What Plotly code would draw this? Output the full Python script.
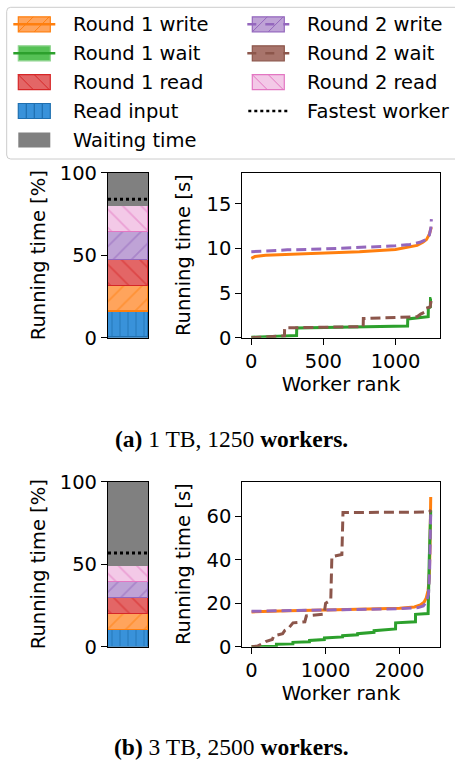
import plotly.graph_objects as go

W, H = 455, 766

# ---------------- data ----------------
seg_names = ["Read input", "Round 1 write", "Round 1 read", "Round 2 write", "Round 2 read", "Waiting time"]
share_a = [15.8, 15.7, 15.5, 17.2, 15.6, 20.2]
share_b = [10.1, 9.7, 9.9, 9.7, 9.7, 50.9]
fastest_a = 83.9
fastest_b = 56.8

# (a) 1 TB, 1250 workers
a_r1_write_rank = [0, 25, 100, 250, 500, 750, 1000, 1100, 1150, 1190, 1215, 1235, 1245, 1249]
a_r1_write_val = [8.9, 9.1, 9.25, 9.35, 9.45, 9.65, 9.9, 10.15, 10.35, 10.7, 11.0, 11.6, 12.1, 12.4]
a_r2_write_rank = [0, 100, 250, 500, 750, 1000, 1100, 1170, 1210, 1235, 1245, 1249]
a_r2_write_val = [9.65, 9.75, 9.85, 9.95, 10.1, 10.3, 10.45, 10.7, 11.0, 11.5, 12.3, 13.3]
a_r1_wait_rank = [0, 314, 315, 1084, 1085, 1227, 1228, 1242, 1243, 1249]
a_r1_wait_val = [0.05, 0.25, 1.1, 1.3, 2.1, 2.35, 3.3, 3.45, 4.4, 4.4]
a_r2_wait_rank = [0, 230, 231, 776, 777, 1150, 1175, 1200, 1210, 1240, 1249]
a_r2_wait_val = [0.0, 0.2, 1.1, 1.25, 2.15, 2.35, 2.65, 2.85, 3.3, 3.45, 4.3]

# (b) 3 TB, 2500 workers
b_r1_write_rank = [0, 200, 500, 1000, 1500, 2000, 2200, 2280, 2330, 2360, 2385, 2400, 2410, 2420]
b_r1_write_val = [16.0, 16.3, 16.6, 16.9, 17.2, 17.7, 18.3, 19.2, 20.5, 22.5, 26.0, 32.0, 45.0, 69.0]
b_r2_write_rank = [0, 500, 1000, 1500, 2000, 2250, 2320, 2360, 2390, 2405, 2415, 2420]
b_r2_write_val = [16.3, 16.6, 16.9, 17.2, 17.5, 18.0, 18.8, 20.5, 24.0, 35.0, 50.0, 62.0]
b_r1_wait_rank = [0, 335, 336, 558, 559, 782, 783, 983, 984, 1229, 1230, 1431, 1432, 1654, 1655,
                  1945, 1946, 2214, 2215, 2385, 2400, 2420]
b_r1_wait_val = [0.0, 0.2, 1.1, 1.3, 2.0, 2.3, 2.9, 3.3, 4.0, 4.5, 5.1, 5.5, 6.0, 6.6, 7.4,
                 8.2, 11.0, 11.5, 14.9, 15.3, 40.0, 62.8]
b_r2_wait_rank = [0, 80, 150, 200, 280, 300, 420, 450, 500, 540, 560, 720, 740, 980, 1000, 1070,
                  1085, 1220, 1235, 2400, 2425]
b_r2_wait_val = [0.0, 0.3, 1.5, 2.5, 3.3, 5.0, 6.0, 7.5, 8.5, 10.0, 11.0, 11.5, 14.2, 15.0, 20.0,
                 21.5, 41.5, 42.5, 61.8, 62.0, 63.0]

cap_a = "<b>(a)</b> 1 TB, 1250 <b>workers.</b>"
cap_b = "<b>(b)</b> 3 TB, 2500 <b>workers.</b>"

# ---------------- styles ----------------
FONT = "DejaVu Sans"
FS = 19.5
fill_col = {"Read input": "#3992da", "Round 1 write": "#ffa45c", "Round 1 read": "#e36666",
            "Round 2 write": "#bfa3d6", "Round 2 read": "#f3c9e7", "Waiting time": "#808080"}
edge_col = {"Read input": "#1f6fb0", "Round 1 write": "#ff7f0e", "Round 1 read": "#d62728",
            "Round 2 write": "#9467bd", "Round 2 read": "#e377c2", "Waiting time": "#808080"}
hatch = {"Read input": "|", "Round 1 write": "/", "Round 1 read": "\\",
         "Round 2 write": "/", "Round 2 read": "\\", "Waiting time": ""}
hsize = {"Read input": 8, "Round 1 write": 13, "Round 1 read": 13,
         "Round 2 write": 13, "Round 2 read": 13, "Waiting time": 10}
ORANGE, PURPLE, GREEN, BROWN = "#ff7f0e", "#9467bd", "#2ca02c", "#8c564b"
DASH = "10px,5px"

fig = go.Figure()


def px(x):
    return x / W


def py(y):
    return 1 - y / H


def add_bar(shares, fastest, xa, ya):
    for name, v in zip(seg_names, shares):
        fig.add_trace(go.Bar(
            x=[0], y=[v], width=[1], xaxis=xa, yaxis=ya, showlegend=False, name=name,
            marker=dict(color=fill_col[name],
                        line=dict(color=edge_col[name], width=1.2),
                        pattern=dict(shape=hatch[name], fgcolor=edge_col[name],
                                     bgcolor=fill_col[name], size=hsize[name],
                                     solidity=0.14 if hatch[name] != "|" else 0.2)),
        ))
    fig.add_trace(go.Scatter(x=[-0.5, 0.5], y=[fastest, fastest], mode="lines", xaxis=xa, yaxis=ya,
                             line=dict(color="black", width=3, dash="dot"), showlegend=False,
                             name="Fastest worker"))


def add_lines(xa, ya, r1w, r2w, r1t, r2t):
    fig.add_trace(go.Scatter(x=r1w[0], y=r1w[1], mode="lines", xaxis=xa, yaxis=ya, showlegend=False,
                             name="Round 1 write", line=dict(color=ORANGE, width=3)))
    fig.add_trace(go.Scatter(x=r1t[0], y=r1t[1], mode="lines", xaxis=xa, yaxis=ya, showlegend=False,
                             name="Round 1 wait", line=dict(color=GREEN, width=3)))
    fig.add_trace(go.Scatter(x=r2w[0], y=r2w[1], mode="lines", xaxis=xa, yaxis=ya, showlegend=False,
                             name="Round 2 write", line=dict(color=PURPLE, width=3, dash=DASH)))
    fig.add_trace(go.Scatter(x=r2t[0], y=r2t[1], mode="lines", xaxis=xa, yaxis=ya, showlegend=False,
                             name="Round 2 wait", line=dict(color=BROWN, width=3, dash=DASH)))


add_bar(share_a, fastest_a, "x", "y")
add_lines("x2", "y2", (a_r1_write_rank, a_r1_write_val), (a_r2_write_rank, a_r2_write_val),
          (a_r1_wait_rank, a_r1_wait_val), (a_r2_wait_rank, a_r2_wait_val))
add_bar(share_b, fastest_b, "x3", "y3")
add_lines("x4", "y4", (b_r1_write_rank, b_r1_write_val), (b_r2_write_rank, b_r2_write_val),
          (b_r1_wait_rank, b_r1_wait_val), (b_r2_wait_rank, b_r2_wait_val))

axis_common = dict(showline=True, mirror=True, linecolor="black", linewidth=1.2, showgrid=False,
                   zeroline=False, ticks="outside", ticklen=6, tickwidth=1.2, tickcolor="black",
                   automargin=False, tickfont=dict(family=FONT, size=FS, color="black"))

top_dom = [py(337.7), py(172.7)]
bot_dom = [py(646.7), py(481.7)]
bar_xdom = [px(108), px(148)]
line_xdom = [px(242.3), px(439.6)]

fig.update_layout(
    width=W, height=H, autosize=False,
    margin=dict(l=0, r=0, t=0, b=0, pad=0, autoexpand=False),
    paper_bgcolor="white", plot_bgcolor="white", barmode="stack", bargap=0, showlegend=False,
    font=dict(family=FONT, size=FS, color="black"),
    xaxis=dict(axis_common, domain=bar_xdom, anchor="y", range=[-0.5, 0.5], showticklabels=False,
               ticks=""),
    yaxis=dict(axis_common, domain=top_dom, anchor="x", range=[0, 100], tickvals=[0, 50, 100],
               title=dict(text="Running time [%]", standoff=8, font=dict(size=FS))),
    xaxis2=dict(axis_common, domain=line_xdom, anchor="y2", range=[-62.5, 1306],
                tickvals=[0, 500, 1000],
                title=dict(text="Worker rank", standoff=4, font=dict(size=FS))),
    yaxis2=dict(axis_common, domain=top_dom, anchor="x2", range=[0, 18.5], tickvals=[0, 5, 10, 15],
                title=dict(text="Running time [s]", standoff=10, font=dict(size=FS))),
    xaxis3=dict(axis_common, domain=bar_xdom, anchor="y3", range=[-0.5, 0.5], showticklabels=False,
                ticks=""),
    yaxis3=dict(axis_common, domain=bot_dom, anchor="x3", range=[0, 100], tickvals=[0, 50, 100],
                title=dict(text="Running time [%]", standoff=8, font=dict(size=FS))),
    xaxis4=dict(axis_common, domain=line_xdom, anchor="y4", range=[-125, 2540],
                tickvals=[0, 1000, 2000],
                title=dict(text="Worker rank", standoff=4, font=dict(size=FS))),
    yaxis4=dict(axis_common, domain=bot_dom, anchor="x4", range=[0, 76], tickvals=[0, 20, 40, 60],
                title=dict(text="Running time [s]", standoff=10, font=dict(size=FS))),
)

# ---------------- manual legend ----------------
shapes = []
annos = []


def seg(x0, y0, x1, y1, color, width=1.0, dash="solid"):
    shapes.append(dict(type="line", xref="paper", yref="paper", x0=px(x0), y0=py(y0), x1=px(x1),
                       y1=py(y1), line=dict(color=color, width=width, dash=dash)))


def patch(xc, yc, name, edge=True):
    w, h = 32, 15
    x0, x1, y0, y1 = xc - w / 2, xc + w / 2, yc - h / 2, yc + h / 2
    shapes.append(dict(type="rect", xref="paper", yref="paper", x0=px(x0), x1=px(x1), y0=py(y1),
                       y1=py(y0), fillcolor=fill_col[name],
                       line=dict(color=edge_col[name], width=1.2 if edge else 0)))
    hs = hatch[name]
    if hs == "/":
        for a in (0, 16):
            seg(x0 + a, y1, x0 + a + h, y0, edge_col[name], 1)
    elif hs == "\\":
        for a in (0, 16):
            seg(x0 + a, y0, x0 + a + h, y1, edge_col[name], 1)
    elif hs == "|":
        for a in (8, 16, 24):
            seg(x0 + a, y0, x0 + a, y1, edge_col[name], 1.2)


# frame
fx0, fy0, fx1, fy1, r = 6.7, 7.3, 470, 159, 4
shapes.append(dict(type="path", xref="paper", yref="paper",
                   path=(f"M {px(fx0 + r)},{py(fy0)} L {px(fx1)},{py(fy0)} L {px(fx1)},{py(fy1)} "
                         f"L {px(fx0 + r)},{py(fy1)} Q {px(fx0)},{py(fy1)} {px(fx0)},{py(fy1 - r)} "
                         f"L {px(fx0)},{py(fy0 + r)} Q {px(fx0)},{py(fy0)} {px(fx0 + r)},{py(fy0)} Z"),
                   line=dict(color="#cccccc", width=1), fillcolor="white", layer="below"))

rows = [24.3, 53.3, 82.2, 111.0, 140.0]
c1, c2 = 34.3, 268.3
t1, t2 = 71, 305
legend_items = [
    (c1, t1, rows[0], "Round 1 write", "patchline", ORANGE, "solid"),
    (c1, t1, rows[1], "Round 1 wait", "greenpatch", GREEN, "solid"),
    (c1, t1, rows[2], "Round 1 read", "patch", None, None),
    (c1, t1, rows[3], "Read input", "patch", None, None),
    (c1, t1, rows[4], "Waiting time", "patch", None, None),
    (c2, t2, rows[0], "Round 2 write", "patchline", PURPLE, "dash"),
    (c2, t2, rows[1], "Round 2 wait", "brownpatch", BROWN, "dash"),
    (c2, t2, rows[2], "Round 2 read", "patch", None, None),
    (c2, t2, rows[3], "Fastest worker", "dotline", "black", "dot"),
]
for xc, tx, yc, label, kind, lc, ld in legend_items:
    if kind == "patch" or kind == "patchline":
        patch(xc, yc, label, edge=(label != "Waiting time"))
    elif kind == "greenpatch":
        shapes.append(dict(type="rect", xref="paper", yref="paper", x0=px(xc - 16), x1=px(xc + 16),
                           y0=py(yc + 7.5), y1=py(yc - 7.5), fillcolor="#55c155",
                           line=dict(color="#8fd48f", width=1.2)))
    elif kind == "brownpatch":
        shapes.append(dict(type="rect", xref="paper", yref="paper", x0=px(xc - 16), x1=px(xc + 16),
                           y0=py(yc + 7.5), y1=py(yc - 7.5), fillcolor="#a8746b",
                           line=dict(color="#8c564b", width=1.2)))
    if kind in ("patchline", "greenpatch", "brownpatch"):
        seg(xc - 21, yc, xc + 21, yc, lc, 2.5, ld)
    if kind == "dotline":
        seg(xc - 20, yc, xc + 19, yc, "black", 2.5, "dot")
    annos.append(dict(text=label, x=px(tx), y=py(yc), xref="paper", yref="paper", xanchor="left",
                      yanchor="middle", showarrow=False,
                      font=dict(family=FONT, size=FS, color="black")))

annos.append(dict(text=cap_a, x=px(232), y=py(439), xref="paper", yref="paper", xanchor="center",
                  yanchor="middle", showarrow=False,
                  font=dict(family="Liberation Serif", size=23.5, color="black")))
annos.append(dict(text=cap_b, x=px(232), y=py(747), xref="paper", yref="paper", xanchor="center",
                  yanchor="middle", showarrow=False,
                  font=dict(family="Liberation Serif", size=23.5, color="black")))

fig.update_layout(shapes=shapes, annotations=annos)
fig.write_html("out.html", config={"displayModeBar": False},
               post_script="document.body.style.margin='0';")
